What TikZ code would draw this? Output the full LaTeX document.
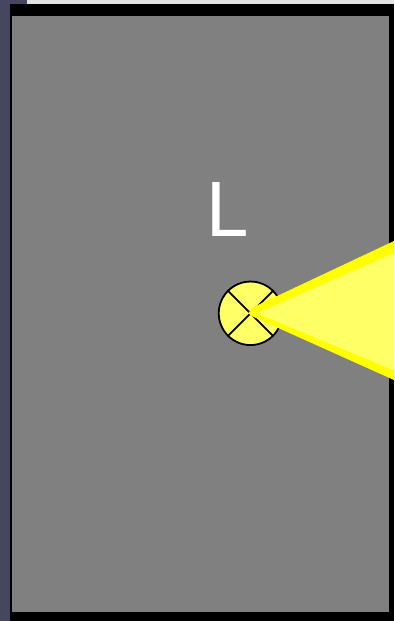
\documentclass[tikz,border=0pt]{standalone}
\usepackage{fontspec}
\setmainfont{DejaVu Sans}
\definecolor{slate}{HTML}{45465F}
\definecolor{topgray}{HTML}{E2E2E2}
\definecolor{room}{HTML}{808080}
\definecolor{lampfill}{HTML}{FFFF66}
\definecolor{beamedge}{HTML}{FFFF00}
\begin{document}
\begin{tikzpicture}[x=1pt,y=-1pt,line join=round,
  lampstroke/.style={draw=black,line width=1.8pt},
  crossline/.style={draw=black,line width=1.8pt}]
\useasboundingbox (0,0) rectangle (394,621);
\fill[slate] (0,0) rectangle (394,621);
\fill[topgray] (27,0) rectangle (394,4);
\fill[black] (10,4) rectangle (394,621);
\fill[room] (12,15.5) rectangle (389,612);
\node[anchor=base west,inner sep=0pt,text=white,font=\fontsize{74}{74}\selectfont] (label) at (205.5,236.7) {L};
\node[circle,minimum size=63.5pt,inner sep=0pt,fill=lampfill,lampstroke] (lamp) at (250.5,313.3) {};
\draw[crossline] (lamp.45) -- (lamp.225);
\draw[crossline] (lamp.135) -- (lamp.315);
\coordinate (tip) at (248.5,313.3);
\coordinate (tiptop) at (252,307.8);
\coordinate (tipbot) at (252,316.2);
\coordinate (beamtop) at (394,241);
\coordinate (beambot) at (394,380);
\coordinate (innerapex) at (257,313.3);
\coordinate (innertop) at (394,253);
\coordinate (innerbot) at (394,370.5);
\fill[beamedge] (tip) -- (tiptop) -- (beamtop) -- (beambot) -- (tipbot) -- cycle;
\fill[lampfill] (innerapex) -- (innertop) -- (innerbot) -- cycle;
\end{tikzpicture}
\end{document}
